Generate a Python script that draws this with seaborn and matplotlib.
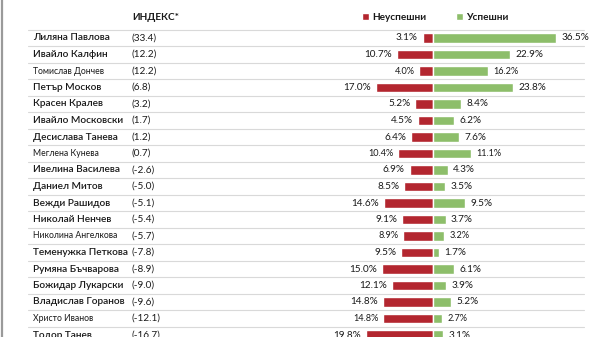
import matplotlib
matplotlib.use("Agg")
import matplotlib.pyplot as plt
import seaborn as sns
import pandas as pd
import numpy as np

names = ["Лиляна Павлова", "Ивайло Калфин", "Томислав Дончев", "Петър Москов",
         "Красен Кралев", "Ивайло Московски", "Десислава Танева", "Меглена Кунева",
         "Ивелина Василева", "Даниел Митов", "Вежди Рашидов", "Николай Ненчев",
         "Николина Ангелкова", "Теменужка Петкова", "Румяна Бъчварова",
         "Божидар Лукарски", "Владислав Горанов", "Христо Иванов", "Тодор Танев"]
index_vals = [33.4, 12.2, 12.2, 6.8, 3.2, 1.7, 1.2, 0.7, -2.6, -5.0, -5.1, -5.4,
              -5.7, -7.8, -8.9, -9.0, -9.6, -12.1, -16.7]
failed = [3.1, 10.7, 4.0, 17.0, 5.2, 4.5, 6.4, 10.4, 6.9, 8.5, 14.6, 9.1, 8.9,
          9.5, 15.0, 12.1, 14.8, 14.8, 19.8]
success = [36.5, 22.9, 16.2, 23.8, 8.4, 6.2, 7.6, 11.1, 4.3, 3.5, 9.5, 3.7, 3.2,
           1.7, 6.1, 3.9, 5.2, 2.7, 3.1]
header = "ИНДЕКС*"
legend_labels = ["Неуспешни", "Успешни"]

small_rows = {2, 7, 12, 17}

RED = "#B3262F"
GREEN = "#8DBE6A"
TXT = "#1A1A1A"

sns.set_theme(style="white")
plt.rcParams["font.family"] = ["Lato", "DejaVu Sans"]

fig = plt.figure(figsize=(6.0, 3.37), dpi=100)
ax = fig.add_axes([0, 0, 1, 1])

df = pd.DataFrame({"name": names, "fail": [-v for v in failed], "succ": success})
sns.barplot(data=df, y="name", x="fail", orient="h", color=RED, width=0.58,
            saturation=1, ax=ax, label=legend_labels[0])
sns.barplot(data=df, y="name", x="succ", orient="h", color=GREEN, width=0.58,
            saturation=1, ax=ax, label=legend_labels[1])

scale = 3.38
ax.set_xlim(-433 / scale, (600 - 433) / scale)
ax.set_ylim((337 - 38) / 16.5, -38 / 16.5)
ax.axis("off")

ytr = ax.get_yaxis_transform()
for i, (n, idx, f, s) in enumerate(zip(names, index_vals, failed, success)):
    small = i in small_rows
    fs_name = 6.2 if small else 7.3
    fs_pct = 6.6 if small else 7.2
    ax.text(0.055, i, n, transform=ytr, ha="left", va="center", fontsize=fs_name,
            color=TXT, fontweight="normal" if small else "semibold")
    ax.text(0.22, i, f"({idx:.1f})", transform=ytr, ha="left", va="center",
            fontsize=7.2, color=TXT)
    ax.text(-f - 1.4, i, f"{f:.1f}%", ha="right", va="center", fontsize=fs_pct,
            color=TXT)
    ax.text(s + 1.6, i, f"{s:.1f}%", ha="left", va="center", fontsize=fs_pct,
            color=TXT)
    ax.plot([0.047, 0.973], [i - 0.5, i - 0.5], transform=ytr, color="#D9D9D9",
            lw=0.8, zorder=0)

ax.text(0.22, -1.27, header, transform=ytr, ha="left", va="center",
        fontsize=7.2, fontweight="bold", color=TXT)

ax.plot([0.0025, 0.0025], [0, 1], transform=ax.transAxes, color="#9A9A9A", lw=1.6)

leg = ax.legend(loc="center left", bbox_to_anchor=(362 / 600, 1 - 17 / 337),
                ncol=2, frameon=False, fontsize=7.2, handlelength=0.7,
                handleheight=0.7, handletextpad=0.3, columnspacing=3.0,
                borderpad=0, borderaxespad=0)
for t in leg.get_texts():
    t.set_fontweight("bold")
    t.set_color(TXT)

fig.savefig("out.png", dpi=100, facecolor="white")
